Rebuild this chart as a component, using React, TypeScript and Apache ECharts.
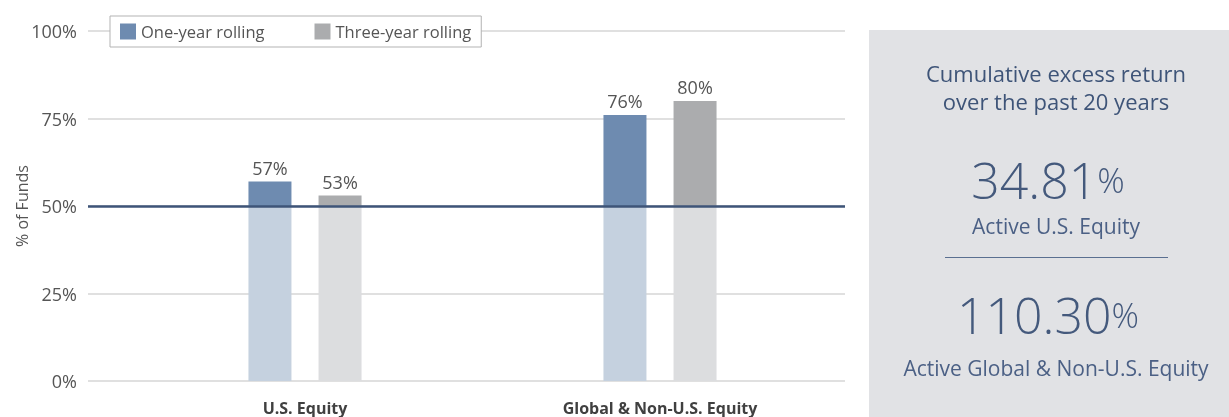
import React, { useEffect, useRef } from "react";
import * as echarts from "echarts";

const categories = ["U.S. Equity", "Global & Non-U.S. Equity"];
const oneYear = [57, 76];
const threeYear = [53, 80];
const threshold = 50;
const yMin = 0;
const yMax = 100;
const yInterval = 25;
const seriesNames = ["One-year rolling", "Three-year rolling"];
const panelTitle = "Cumulative excess return\nover the past 20 years";
const stat1Value = "34.81";
const stat1Label = "Active U.S. Equity";
const stat2Value = "110.30";
const stat2Label = "Active Global & Non-U.S. Equity";

const FONT = "'Open Sans', sans-serif";
const NAVY = "#3e5478";

export default function App() {
  const ref = useRef<HTMLDivElement>(null);
  useEffect(() => {
    const chart = echarts.init(ref.current!, null, { renderer: "svg" });
    const base = (arr: number[]) => arr.map((v) => Math.min(v, threshold));
    const top = (arr: number[]) => arr.map((v) => Math.max(v - threshold, 0));
    const labelFor = (arr: number[]) => ({
      show: true,
      position: "top",
      distance: 5,
      fontFamily: FONT,
      fontSize: 18,
      color: "#555",
      formatter: (p: any) => arr[p.dataIndex] + "%",
    });
    const bigRich = {
      n: { fontFamily: FONT, fontSize: 50, fontWeight: 300, fill: "#44597c" },
      p: { fontFamily: FONT, fontSize: 34, fontWeight: 300, fill: "#44597c" },
    };
    chart.setOption({
      animation: false,
      textStyle: { fontFamily: FONT },
      legend: {
        data: seriesNames,
        left: 110,
        top: 16,
        padding: [7, 10, 7, 10],
        itemWidth: 16,
        itemHeight: 16,
        itemGap: 50,
        icon: "rect",
        backgroundColor: "#fff",
        borderColor: "#b3b3b3",
        borderWidth: 1,
        borderRadius: 0,
        textStyle: { fontFamily: FONT, fontSize: 16.5, color: "#555" },
      },
      grid: [
        { left: 88, width: 757, top: 31, height: 350, outerBoundsMode: "none", containLabel: false },
        { left: 127.5, width: 710, top: 31, height: 350, outerBoundsMode: "none", containLabel: false },
      ],
      xAxis: [
        { type: "category", gridIndex: 0, data: [""], show: false },
        {
          type: "category",
          gridIndex: 1,
          data: categories,
          axisLine: { show: false },
          axisTick: { show: false },
          axisLabel: {
            margin: 19,
            fontFamily: FONT,
            fontSize: 16,
            fontWeight: "bold",
            color: "#404040",
          },
        },
      ],
      yAxis: [
        {
          type: "value",
          gridIndex: 0,
          min: yMin,
          max: yMax,
          interval: yInterval,
          name: "% of Funds",
          nameLocation: "middle",
          nameGap: 58,
          nameMoveOverlap: false,
          nameTextStyle: { fontFamily: FONT, fontSize: 16, color: "#555" },
          axisLine: { show: false },
          axisTick: { show: false },
          axisLabel: {
            formatter: "{value}%",
            margin: 11,
            fontFamily: FONT,
            fontSize: 18,
            color: "#555",
          },
          splitLine: { lineStyle: { color: "#d6d6d6", width: 1.5 } },
        },
        { type: "value", gridIndex: 1, min: yMin, max: yMax, interval: yInterval, show: false },
      ],
      series: [
        {
          type: "line",
          xAxisIndex: 0,
          yAxisIndex: 0,
          data: [],
          z: 1,
          markLine: {
            silent: true,
            symbol: "none",
            label: { show: false },
            lineStyle: { color: NAVY, width: 2.5, type: "solid" },
            data: [{ yAxis: threshold }],
          },
        },
        {
          name: "One-year base",
          type: "bar",
          xAxisIndex: 1,
          yAxisIndex: 1,
          stack: "one",
          barWidth: 43,
          barGap: "63%",
          itemStyle: { color: "#c5d1df" },
          data: base(oneYear),
          z: 3,
        },
        {
          name: seriesNames[0],
          type: "bar",
          xAxisIndex: 1,
          yAxisIndex: 1,
          stack: "one",
          barWidth: 43,
          barGap: "63%",
          itemStyle: { color: "#6e8bb0" },
          data: top(oneYear),
          label: labelFor(oneYear),
          z: 3,
        },
        {
          name: "Three-year base",
          type: "bar",
          xAxisIndex: 1,
          yAxisIndex: 1,
          stack: "three",
          barWidth: 43,
          barGap: "63%",
          itemStyle: { color: "#dcdddf" },
          data: base(threeYear),
          z: 3,
        },
        {
          name: seriesNames[1],
          type: "bar",
          xAxisIndex: 1,
          yAxisIndex: 1,
          stack: "three",
          barWidth: 43,
          barGap: "63%",
          itemStyle: { color: "#abacae" },
          data: top(threeYear),
          label: labelFor(threeYear),
          z: 3,
        },
      ],
      graphic: [
        {
          type: "rect",
          z: 0,
          shape: { x: 869, y: 30, width: 360, height: 387 },
          style: { fill: "#e1e2e5" },
        },
        {
          type: "text",
          x: 1056,
          y: 87,
          style: {
            text: panelTitle,
            align: "center",
            verticalAlign: "middle",
            fontFamily: FONT,
            fontSize: 22,
            lineHeight: 28,
            fill: NAVY,
          },
        },
        {
          type: "text",
          x: 1048,
          y: 180,
          style: {
            text: "{n|" + stat1Value + "}{p|%}",
            align: "center",
            verticalAlign: "middle",
            rich: bigRich,
          },
        },
        {
          type: "text",
          x: 1056,
          y: 226,
          style: {
            text: stat1Label,
            align: "center",
            verticalAlign: "middle",
            fontFamily: FONT,
            fontSize: 21,
            fill: "#4b6085",
          },
        },
        {
          type: "line",
          shape: { x1: 945, y1: 257.5, x2: 1168, y2: 257.5 },
          style: { stroke: "#5a6f90", lineWidth: 1 },
        },
        {
          type: "text",
          x: 1048,
          y: 315,
          style: {
            text: "{n|" + stat2Value + "}{p|%}",
            align: "center",
            verticalAlign: "middle",
            rich: bigRich,
          },
        },
        {
          type: "text",
          x: 1056,
          y: 368,
          style: {
            text: stat2Label,
            align: "center",
            verticalAlign: "middle",
            fontFamily: FONT,
            fontSize: 21,
            fill: "#4b6085",
          },
        },
      ],
    });
    return () => chart.dispose();
  }, []);
  return (
    <div
      ref={ref}
      style={{ position: "fixed", left: 0, top: 0, width: 1229, height: 417 }}
    />
  );
}
